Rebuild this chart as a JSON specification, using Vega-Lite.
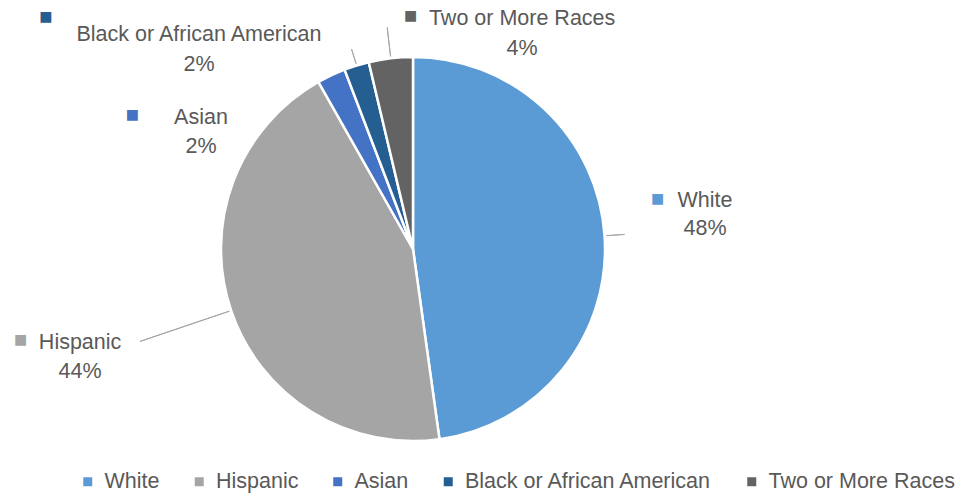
{
  "$schema": "https://vega.github.io/schema/vega-lite/v6.json",
  "width": 826,
  "height": 386,
  "autosize": {"type": "none"},
  "padding": {"left": 0, "top": 56, "right": 148, "bottom": 55},
  "background": "white",
  "config": {"view": {"stroke": null}},
  "data": {"values": [
    {"category": "White", "value": 47.8},
    {"category": "Hispanic", "value": 44.0},
    {"category": "Asian", "value": 2.4},
    {"category": "Black or African American", "value": 2.1},
    {"category": "Two or More Races", "value": 3.7}
  ]},
  "transform": [
    {"window": [{"op": "sum", "field": "value", "as": "cum"}], "frame": [null, 0]},
    {"calculate": "datum.cum - datum.value / 2", "as": "mid"},
    {"calculate": "datum.mid + 0.01", "as": "mid2"},
    {"calculate": "datum.category + '\\n' + format(datum.value, '.0f') + '%'", "as": "label"}
  ],
  "layer": [
    {
      "mark": {"type": "arc", "radius": 192, "stroke": "white", "strokeWidth": 2.5},
      "encoding": {
        "theta": {"field": "value", "type": "quantitative", "stack": true, "scale": {"domain": [0, 100]}},
        "order": {"field": "cum", "type": "quantitative"},
        "color": {
          "field": "category", "type": "nominal",
          "scale": {
            "domain": ["White", "Hispanic", "Asian", "Black or African American", "Two or More Races"],
            "range": ["#5B9BD5", "#A5A5A5", "#4472C4", "#255E91", "#636363"]
          },
          "legend": {
            "orient": "none", "legendX": 77, "legendY": 415, "direction": "horizontal",
            "title": null, "symbolType": "square", "symbolSize": 81, "symbolStrokeWidth": 0,
            "labelFont": "Liberation Sans", "labelFontSize": 21.5, "labelColor": "#595959",
            "labelLimit": 400, "columnPadding": 28.5, "labelOffset": 6, "padding": 0,
            "gridAlign": "none"
          }
        }
      }
    },
    {
      "transform": [{"filter": "datum.category === 'White'"}],
      "mark": {"type": "arc", "radius": 212, "radius2": 194, "fill": null, "filled": false, "stroke": "#A6A6A6", "strokeWidth": 1},
      "encoding": {
        "theta": {"field": "mid", "type": "quantitative", "stack": null, "scale": {"domain": [0, 100]}},
        "theta2": {"field": "mid2"}
      }
    },
    {
      "transform": [{"filter": "datum.category === 'Hispanic'"}],
      "mark": {"type": "arc", "radius": 288, "radius2": 194, "fill": null, "filled": false, "stroke": "#A6A6A6", "strokeWidth": 1},
      "encoding": {
        "theta": {"field": "mid", "type": "quantitative", "stack": null, "scale": {"domain": [0, 100]}},
        "theta2": {"field": "mid2"}
      }
    },
    {
      "transform": [{"filter": "datum.category === 'Black or African American'"}],
      "mark": {"type": "arc", "radius": 209, "radius2": 194, "fill": null, "filled": false, "stroke": "#A6A6A6", "strokeWidth": 1},
      "encoding": {
        "theta": {"field": "mid", "type": "quantitative", "stack": null, "scale": {"domain": [0, 100]}},
        "theta2": {"field": "mid2"}
      }
    },
    {
      "transform": [{"filter": "datum.category === 'Two or More Races'"}],
      "mark": {"type": "arc", "radius": 223, "radius2": 194, "fill": null, "filled": false, "stroke": "#A6A6A6", "strokeWidth": 1},
      "encoding": {
        "theta": {"field": "mid", "type": "quantitative", "stack": null, "scale": {"domain": [0, 100]}},
        "theta2": {"field": "mid2"}
      }
    },
    {
      "transform": [{"filter": "datum.category === 'White'"}],
      "mark": {"type": "text", "radius": 230, "dx": 62.6, "dy": -32, "font": "Liberation Sans", "fontSize": 21.5, "lineHeight": 28, "lineBreak": "\n", "color": "#595959", "align": "center", "baseline": "middle"},
      "encoding": {
        "theta": {"field": "mid", "type": "quantitative", "stack": null, "scale": {"domain": [0, 100]}},
        "text": {"field": "label"}
      }
    },
    {
      "transform": [{"filter": "datum.category === 'Hispanic'"}],
      "mark": {"type": "text", "radius": 230, "dx": -115.1, "dy": 19.8, "font": "Liberation Sans", "fontSize": 21.5, "lineHeight": 29, "lineBreak": "\n", "color": "#595959", "align": "center", "baseline": "middle"},
      "encoding": {
        "theta": {"field": "mid", "type": "quantitative", "stack": null, "scale": {"domain": [0, 100]}},
        "text": {"field": "label"}
      }
    },
    {
      "transform": [{"filter": "datum.category === 'Asian'"}],
      "mark": {"type": "text", "radius": 230, "dx": -114.1, "dy": 77.3, "font": "Liberation Sans", "fontSize": 21.5, "lineHeight": 29, "lineBreak": "\n", "color": "#595959", "align": "center", "baseline": "middle"},
      "encoding": {
        "theta": {"field": "mid", "type": "quantitative", "stack": null, "scale": {"domain": [0, 100]}},
        "text": {"field": "label"}
      }
    },
    {
      "transform": [{"filter": "datum.category === 'Black or African American'"}],
      "mark": {"type": "text", "radius": 230, "dx": -146.4, "dy": 6.0, "font": "Liberation Sans", "fontSize": 21.5, "lineHeight": 30, "lineBreak": "\n", "color": "#595959", "align": "center", "baseline": "middle"},
      "encoding": {
        "theta": {"field": "mid", "type": "quantitative", "stack": null, "scale": {"domain": [0, 100]}},
        "text": {"field": "label"}
      }
    },
    {
      "transform": [{"filter": "datum.category === 'Two or More Races'"}],
      "mark": {"type": "text", "radius": 230, "dx": 135.8, "dy": -1.1, "font": "Liberation Sans", "fontSize": 21.5, "lineHeight": 29.5, "lineBreak": "\n", "color": "#595959", "align": "center", "baseline": "middle"},
      "encoding": {
        "theta": {"field": "mid", "type": "quantitative", "stack": null, "scale": {"domain": [0, 100]}},
        "text": {"field": "label"}
      }
    },
    {
      "transform": [{"filter": "datum.category === 'White'"}],
      "mark": {"type": "text", "radius": 230, "dx": 15.1, "dy": -34, "font": "DejaVu Sans", "fontSize": 14, "align": "center", "baseline": "middle", "text": "■"},
      "encoding": {
        "theta": {"field": "mid", "type": "quantitative", "stack": null, "scale": {"domain": [0, 100]}},
        "color": {"field": "category", "type": "nominal", "legend": null}
      }
    },
    {
      "transform": [{"filter": "datum.category === 'Hispanic'"}],
      "mark": {"type": "text", "radius": 230, "dx": -174.6, "dy": 17.3, "font": "DejaVu Sans", "fontSize": 14, "align": "center", "baseline": "middle", "text": "■"},
      "encoding": {
        "theta": {"field": "mid", "type": "quantitative", "stack": null, "scale": {"domain": [0, 100]}},
        "color": {"field": "category", "type": "nominal", "legend": null}
      }
    },
    {
      "transform": [{"filter": "datum.category === 'Asian'"}],
      "mark": {"type": "text", "radius": 230, "dx": -182.6, "dy": 74.1, "font": "DejaVu Sans", "fontSize": 14, "align": "center", "baseline": "middle", "text": "■"},
      "encoding": {
        "theta": {"field": "mid", "type": "quantitative", "stack": null, "scale": {"domain": [0, 100]}},
        "color": {"field": "category", "type": "nominal", "legend": null}
      }
    },
    {
      "transform": [{"filter": "datum.category === 'Black or African American'"}],
      "mark": {"type": "text", "radius": 230, "dx": -299.4, "dy": -12.2, "font": "DejaVu Sans", "fontSize": 14, "align": "center", "baseline": "middle", "text": "■"},
      "encoding": {
        "theta": {"field": "mid", "type": "quantitative", "stack": null, "scale": {"domain": [0, 100]}},
        "color": {"field": "category", "type": "nominal", "legend": null}
      }
    },
    {
      "transform": [{"filter": "datum.category === 'Two or More Races'"}],
      "mark": {"type": "text", "radius": 230, "dx": 24.3, "dy": -4.1, "font": "DejaVu Sans", "fontSize": 14, "align": "center", "baseline": "middle", "text": "■"},
      "encoding": {
        "theta": {"field": "mid", "type": "quantitative", "stack": null, "scale": {"domain": [0, 100]}},
        "color": {"field": "category", "type": "nominal", "legend": null}
      }
    }
  ]
}
